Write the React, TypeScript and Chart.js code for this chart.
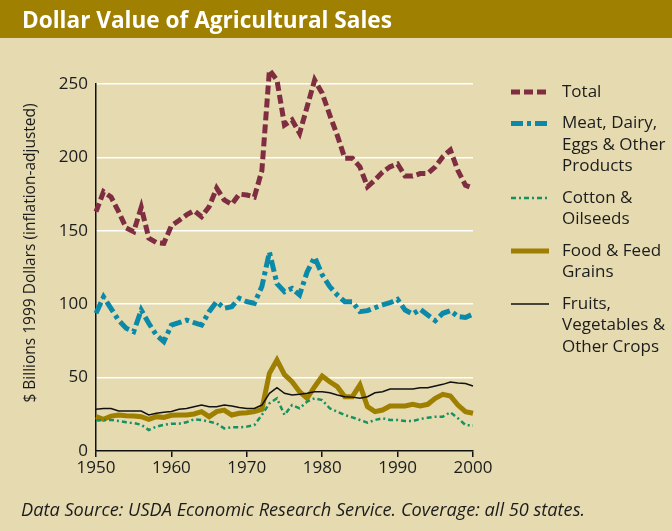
import React, { useEffect, useRef } from "react";
import { Chart, registerables } from "chart.js";

Chart.register(...registerables);

const YEARS = [
  1950, 1951, 1952, 1953, 1954, 1955, 1956, 1957, 1958, 1959,
  1960, 1961, 1962, 1963, 1964, 1965, 1966, 1967, 1968, 1969,
  1970, 1971, 1972, 1973, 1974, 1975, 1976, 1977, 1978, 1979,
  1980, 1981, 1982, 1983, 1984, 1985, 1986, 1987, 1988, 1989,
  1990, 1991, 1992, 1993, 1994, 1995, 1996, 1997, 1998, 1999,
  2000,
];

const TOTAL = [
  163, 176.6, 173, 163, 152, 149.4, 166, 145, 142, 141.5,
  153.5, 157, 160.8, 163.7, 159.6, 166.4, 179, 171, 168, 175,
  174.4, 173, 191, 259.5, 252.7, 222, 225.5, 216.4, 234.5, 252.7,
  243.7, 228.9, 215, 199.4, 199.4, 193.6, 180, 184.6, 190, 193.6,
  195.5, 187.3, 187.3, 189, 189, 193.6, 200.5, 205, 191, 181,
  179,
];

const MEAT = [
  93.8, 105, 97, 89, 83.6, 81.3, 96, 87, 79, 74.5,
  85.8, 87.4, 89.2, 87.4, 85.8, 94.9, 101.7, 97.2, 98.3, 104,
  101.7, 100.6, 112, 135.5, 114, 108.5, 110.8, 106.3, 122, 132,
  120, 112, 106.3, 101.7, 101.7, 94.9, 95.6, 97.6, 99.5, 101,
  103.3, 96, 93.3, 96.5, 92.6, 88.8, 93.8, 95.6, 91.5, 91,
  93.3,
];

const COTTON = [
  20.7, 21.1, 21.1, 20.5, 19.6, 19, 17.9, 14.3, 16.6, 17.9,
  18.6, 18.6, 19.6, 21.6, 21.1, 20, 18.8, 15.4, 16.1, 16.1,
  16.6, 17.7, 24.5, 32.5, 35.9, 24.5, 31.3, 29.1, 33.6, 35.9,
  34.7, 29.1, 26.8, 24.5, 22.9, 21.1, 19.3, 21.1, 22.3, 21.1,
  21.1, 20.4, 20.4, 21.8, 22.7, 23.4, 23.4, 26.4, 22.3, 17.7,
  17.4,
];

const FOOD = [
  23.4, 21.6, 23.8, 24.5, 24, 23.8, 23.4, 21.6, 23.4, 22.9,
  24.3, 24.5, 24.5, 25.2, 26.8, 23.4, 26.8, 27.9, 24.5, 25.7,
  26.1, 26.8, 28.4, 52.9, 62, 52, 47.2, 40.4, 35.9, 43.8,
  51.1, 47.2, 43.8, 37, 37, 45, 30.2, 26.8, 27.9, 30.7,
  30.7, 30.7, 31.8, 30.7, 31.8, 35.9, 38.6, 37.5, 31.3, 26.8,
  25.7,
];

const FRUITS = [
  28.4, 29, 29, 27.2, 27.2, 27.2, 27.2, 24.5, 25.7, 26.4,
  26.9, 28.4, 29, 30.2, 31.3, 30.2, 30.2, 31.3, 30.6, 29.7,
  29, 29, 31.3, 39.3, 43.1, 39.3, 38.1, 38.6, 39.3, 40.4,
  40.4, 39.7, 38.1, 37, 36.7, 35.9, 37, 39.7, 40.4, 42.2,
  42.2, 42.2, 42.2, 43.1, 43.1, 44.3, 45.4, 47, 46.3, 46,
  44.3,
];

const Y_TICKS = [0, 50, 100, 150, 200, 250];
const X_TICKS = [1950, 1960, 1970, 1980, 1990, 2000];

const LEGEND_LABELS = [
  ["Total"],
  ["Meat, Dairy,", "Eggs & Other", "Products"],
  ["Cotton &", "Oilseeds"],
  ["Food & Feed", "Grains"],
  ["Fruits,", "Vegetables &", "Other Crops"],
];

const TITLE = "Dollar Value of Agricultural Sales";
const Y_TITLE = "$ Billions 1999 Dollars (inflation-adjusted)";
const SOURCE = "Data Source: USDA Economic Research Service. Coverage: all 50 states.";

const FONT = "'Open Sans', 'Noto Sans', sans-serif";
const BG = "#E5DAB0";
const OLIVE = "#A08000";
const TEXT = "#1c1c1c";

const decorPlugin = {
  id: "decor",
  afterDraw(chart: any) {
    const ctx = chart.ctx as CanvasRenderingContext2D;
    ctx.save();
    // y axis title
    ctx.translate(31, 253);
    ctx.rotate(-Math.PI / 2);
    ctx.fillStyle = TEXT;
    ctx.font = `15.5px ${FONT}`;
    ctx.textAlign = "center";
    ctx.textBaseline = "middle";
    ctx.fillText(Y_TITLE, 0, 0);
    ctx.restore();

    // legend
    ctx.save();
    const lineH = 21.5;
    const groupGap = 31.5;
    let y = 92;
    chart.data.datasets.forEach((ds: any, i: number) => {
      ctx.save();
      ctx.strokeStyle = ds.borderColor;
      ctx.lineWidth = ds.borderWidth;
      ctx.setLineDash(ds.borderDash || []);
      ctx.lineCap = "butt";
      ctx.beginPath();
      ctx.moveTo(511, y);
      ctx.lineTo(549, y);
      ctx.stroke();
      ctx.restore();
      ctx.fillStyle = TEXT;
      ctx.font = `17px ${FONT}`;
      ctx.textAlign = "left";
      ctx.textBaseline = "middle";
      const lines = LEGEND_LABELS[i];
      lines.forEach((t, k) => ctx.fillText(t, 562, y + k * lineH));
      y += (lines.length - 1) * lineH + groupGap;
    });
    ctx.restore();
  },
};

export default function App() {
  const ref = useRef<HTMLCanvasElement>(null);

  useEffect(() => {
    document.body.style.margin = "0";
    const mk = (vals: number[]) => YEARS.map((x, i) => ({ x, y: vals[i] }));
    const common = {
      pointRadius: 0,
      tension: 0,
      clip: false as any,
      borderCapStyle: "butt" as const,
      borderJoinStyle: "miter" as const,
      fill: false,
    };
    const chart = new Chart(ref.current!, {
      type: "line",
      data: {
        datasets: [
          { ...common, label: "Total", data: mk(TOTAL), borderColor: "#7F2D40", borderWidth: 5, borderDash: [9, 4], order: 1 },
          { ...common, label: "Meat, Dairy, Eggs & Other Products", data: mk(MEAT), borderColor: "#0A89A8", borderWidth: 5, borderDash: [12, 4, 4, 4], order: 2 },
          { ...common, label: "Cotton & Oilseeds", data: mk(COTTON), borderColor: "#17915F", borderWidth: 2.5, borderDash: [5, 3, 2, 3], order: 4 },
          { ...common, label: "Food & Feed Grains", data: mk(FOOD), borderColor: "#9F7F00", borderWidth: 5, order: 5 },
          { ...common, label: "Fruits, Vegetables & Other Crops", data: mk(FRUITS), borderColor: "#111111", borderWidth: 1.5, order: 3 },
        ],
      },
      options: {
        responsive: false,
        animation: false,
        devicePixelRatio: 1,
        layout: { padding: { left: 0, top: 84, right: 672 - 473, bottom: 0 } },
        plugins: { legend: { display: false }, tooltip: { enabled: false }, title: { display: false } },
        scales: {
          x: {
            type: "linear",
            min: 1950,
            max: 2000,
            afterBuildTicks: (s: any) => { s.ticks = X_TICKS.map((v) => ({ value: v })); },
            afterFit: (s: any) => { s.height = 531 - 451; },
            ticks: { color: TEXT, font: { family: FONT, size: 17 }, padding: 1, maxRotation: 0, callback: (v: any) => String(v) },
            grid: { drawOnChartArea: false, drawTicks: true, tickLength: 6, color: "#111", lineWidth: 1.5 },
            border: { display: true, color: "#111", width: 1.5 },
          },
          y: {
            type: "linear",
            min: 0,
            max: 250,
            afterBuildTicks: (s: any) => { s.ticks = Y_TICKS.map((v) => ({ value: v })); },
            afterFit: (s: any) => { s.width = 96; },
            ticks: { color: TEXT, font: { family: FONT, size: 17 }, padding: 8, callback: (v: any) => String(v) },
            grid: {
              drawTicks: false,
              color: (c: any) => (c.tick && c.tick.value === 0 ? "rgba(0,0,0,0)" : "#FFFFFF"),
              lineWidth: 1.5,
            },
            border: { display: true, color: "#111", width: 1.5 },
          },
        },
      },
      plugins: [decorPlugin],
    });
    return () => chart.destroy();
  }, []);

  return (
    <div style={{ position: "relative", width: 672, height: 531, background: BG, overflow: "hidden", fontFamily: FONT }}>
      <canvas ref={ref} width={672} height={531} style={{ position: "absolute", left: 0, top: 0, width: 672, height: 531 }} />
      <div style={{ position: "absolute", left: 0, top: 0, width: 672, height: 38, background: OLIVE }}>
        <div style={{ position: "absolute", left: 22, top: 0, lineHeight: "40px", color: "#fff", fontWeight: 700, fontSize: 22.6, whiteSpace: "nowrap" }}>
          {TITLE}
        </div>
      </div>
      <div style={{ position: "absolute", left: 21, top: 498, lineHeight: "22px", fontStyle: "italic", fontSize: 18.2, color: TEXT, whiteSpace: "nowrap" }}>
        {SOURCE}
      </div>
    </div>
  );
}
